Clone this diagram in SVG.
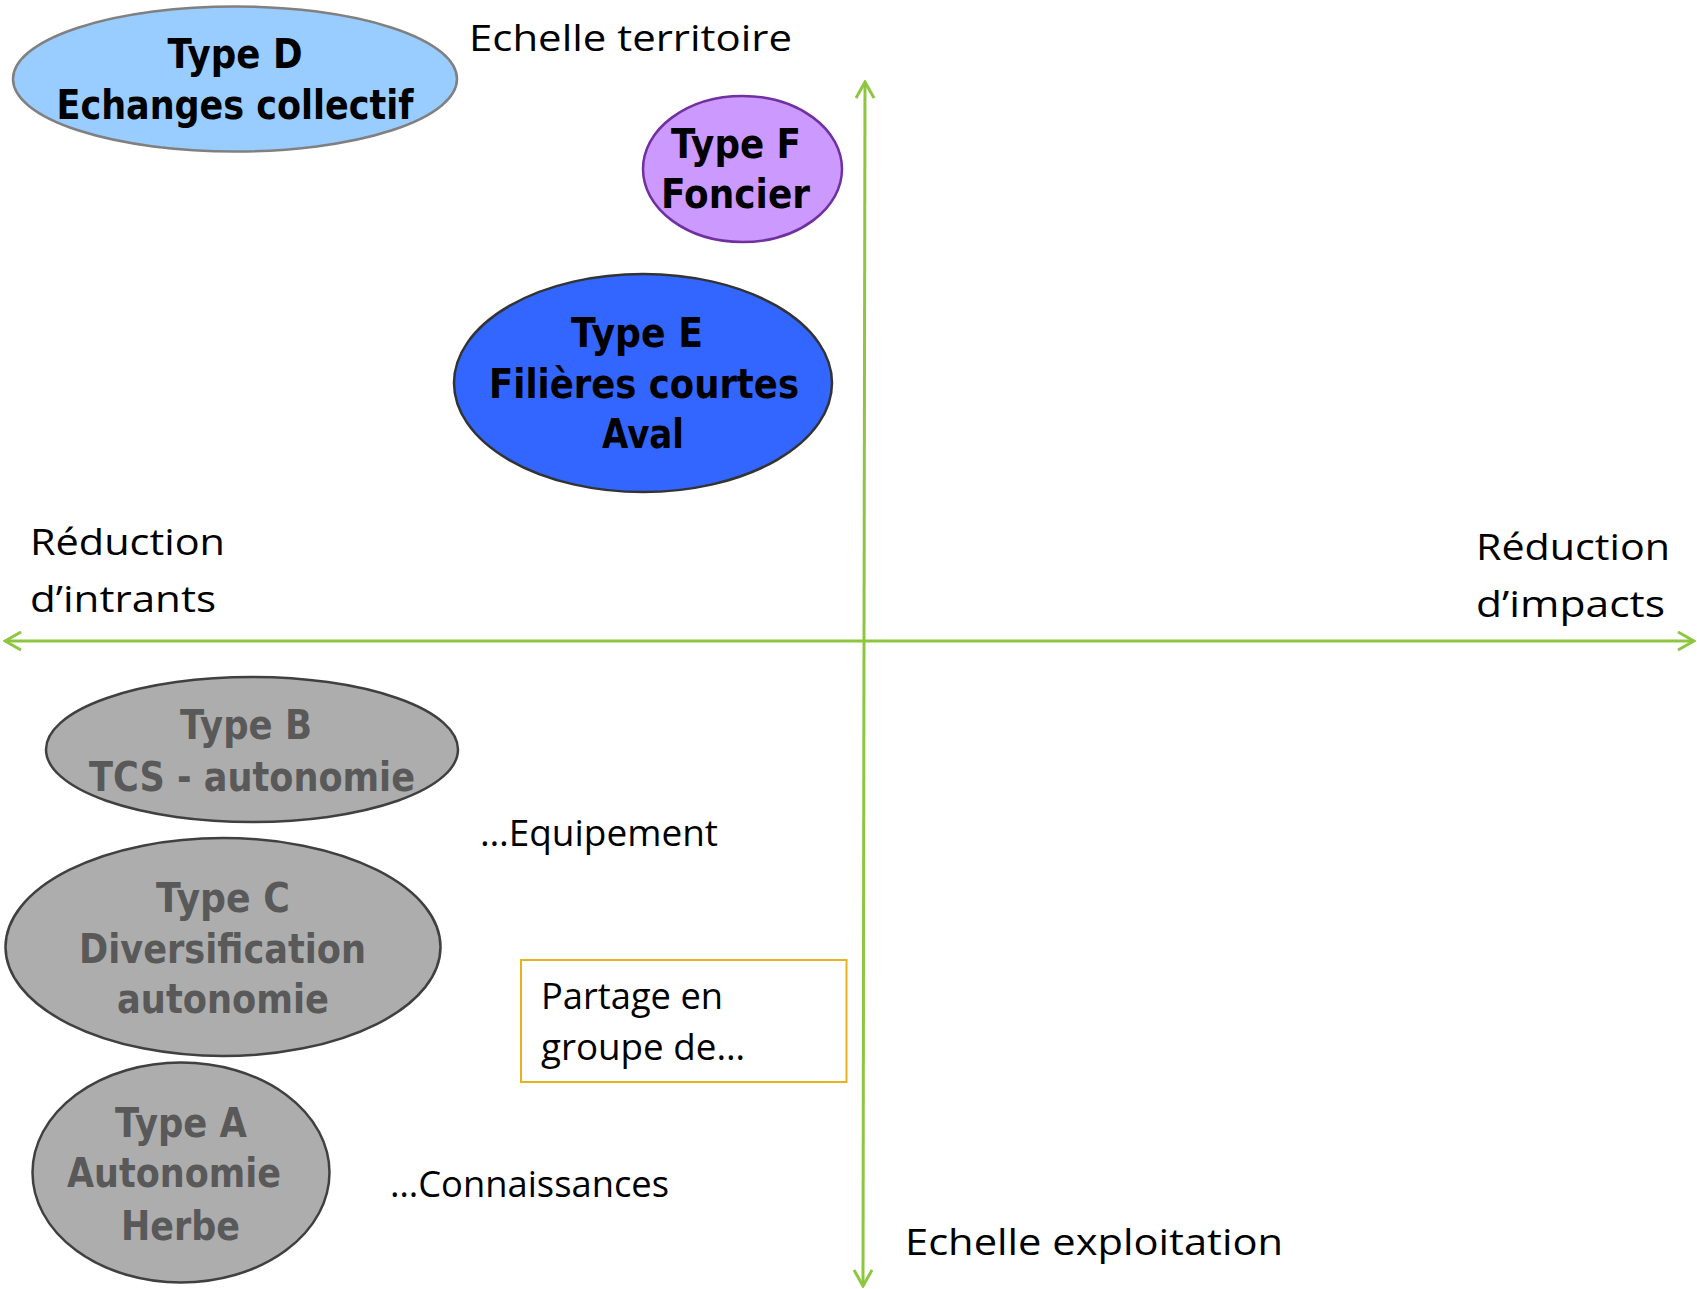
<svg xmlns="http://www.w3.org/2000/svg" width="1697" height="1289" viewBox="0 0 1697 1289">
<style>
.nb{font-family:"DejaVu Sans","Liberation Sans",sans-serif;font-weight:bold;font-size:40px;text-anchor:middle}
.dk{fill:#000}
.gy{fill:#595959}
.lb{font-family:"Open Sans","Liberation Sans",sans-serif;font-size:37px;fill:#000;font-variant-ligatures:none}
.ax{stroke:#8DC63F;stroke-width:3;fill:none}
.gell{fill:#ADADAD;stroke:#404040;stroke-width:2.5}
</style>
<defs>
<marker id="arr" viewBox="0 0 20 20" refX="18" refY="10" markerWidth="20" markerHeight="20" markerUnits="userSpaceOnUse" orient="auto">
<path d="M2,1 L18,10 L2,19" fill="none" stroke="#8DC63F" stroke-width="3"/>
</marker>
</defs>
<rect width="1697" height="1289" fill="#fff"/>
<g id="connectors">
<line class="ax" x1="866" y1="641" x2="5" y2="641" marker-end="url(#arr)"/>
<line class="ax" x1="866" y1="641" x2="1694" y2="641" marker-end="url(#arr)"/>
<line class="ax" x1="864" y1="641" x2="865" y2="82" marker-end="url(#arr)"/>
<line class="ax" x1="864" y1="641" x2="863" y2="1286" marker-end="url(#arr)"/>
</g>
<g id="typeD">
<ellipse cx="235" cy="79" rx="222" ry="72.5" fill="#99CCFF" stroke="#808080" stroke-width="2.5"/>
<text class="nb dk" x="235" y="68" textLength="135" lengthAdjust="spacingAndGlyphs">Type D</text>
<text class="nb dk" x="235" y="119" textLength="357" lengthAdjust="spacingAndGlyphs">Echanges collectif</text>
</g>
<g id="typeF">
<ellipse cx="742.5" cy="169" rx="99.5" ry="73" fill="#CC99FF" stroke="#7030A0" stroke-width="2.5"/>
<text class="nb dk" x="736" y="158" textLength="130" lengthAdjust="spacingAndGlyphs">Type F</text>
<text class="nb dk" x="735.5" y="208" textLength="149" lengthAdjust="spacingAndGlyphs">Foncier</text>
</g>
<g id="typeE">
<ellipse cx="643" cy="383" rx="189" ry="109" fill="#3366FF" stroke="#333333" stroke-width="2.5"/>
<text class="nb dk" x="637" y="347" textLength="132" lengthAdjust="spacingAndGlyphs">Type E</text>
<text class="nb dk" x="644" y="398" textLength="310" lengthAdjust="spacingAndGlyphs">Filières courtes</text>
<text class="nb dk" x="643" y="448" textLength="82" lengthAdjust="spacingAndGlyphs">Aval</text>
</g>
<g id="typeB">
<ellipse class="gell" cx="252" cy="749.5" rx="206" ry="72.5"/>
<text class="nb gy" x="246" y="739" textLength="132" lengthAdjust="spacingAndGlyphs">Type B</text>
<text class="nb gy" x="252" y="791" textLength="326" lengthAdjust="spacingAndGlyphs">TCS - autonomie</text>
</g>
<g id="typeC">
<ellipse class="gell" cx="223" cy="947" rx="217.5" ry="109"/>
<text class="nb gy" x="223" y="912" textLength="134" lengthAdjust="spacingAndGlyphs">Type C</text>
<text class="nb gy" x="222.5" y="963" textLength="287" lengthAdjust="spacingAndGlyphs">Diversification</text>
<text class="nb gy" x="223" y="1013" textLength="212" lengthAdjust="spacingAndGlyphs">autonomie</text>
</g>
<g id="typeA">
<ellipse class="gell" cx="181" cy="1172.5" rx="148.5" ry="110"/>
<text class="nb gy" x="181" y="1137" textLength="132" lengthAdjust="spacingAndGlyphs">Type A</text>
<text class="nb gy" x="174" y="1187" textLength="214" lengthAdjust="spacingAndGlyphs">Autonomie</text>
<text class="nb gy" x="180.5" y="1240" textLength="119" lengthAdjust="spacingAndGlyphs">Herbe</text>
</g>
<g id="partage">
<rect x="521" y="960" width="325.5" height="122" fill="#fff" stroke="#E6B31E" stroke-width="2"/>
<text class="lb" x="541" y="1009" textLength="182" lengthAdjust="spacingAndGlyphs">Partage en</text>
<text class="lb" x="541" y="1060" textLength="204" lengthAdjust="spacingAndGlyphs">groupe de…</text>
</g>
<g id="labels">
<text class="lb" x="469" y="51" textLength="323" lengthAdjust="spacingAndGlyphs">Echelle territoire</text>
<text class="lb" x="30" y="555" textLength="195" lengthAdjust="spacingAndGlyphs">Réduction</text>
<text class="lb" x="30" y="612" textLength="186" lengthAdjust="spacingAndGlyphs">d’intrants</text>
<text class="lb" x="1476" y="560" textLength="194" lengthAdjust="spacingAndGlyphs">Réduction</text>
<text class="lb" x="1476" y="617" textLength="189" lengthAdjust="spacingAndGlyphs">d’impacts</text>
<text class="lb" x="905" y="1255" textLength="378" lengthAdjust="spacingAndGlyphs">Echelle exploitation</text>
<text class="lb" x="480" y="846" textLength="238" lengthAdjust="spacingAndGlyphs">…Equipement</text>
<text class="lb" x="390" y="1197" textLength="279" lengthAdjust="spacingAndGlyphs">…Connaissances</text>
</g>
</svg>
